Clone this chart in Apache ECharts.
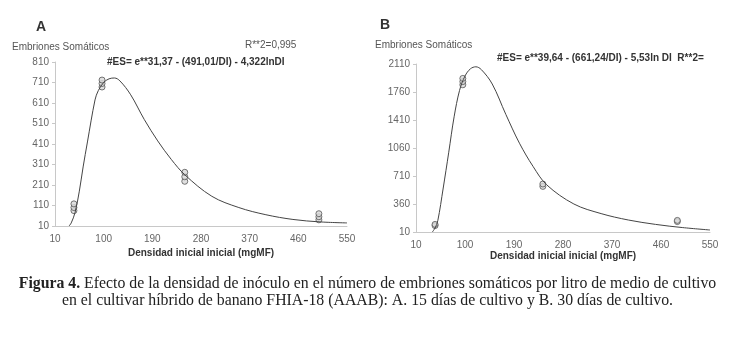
<!DOCTYPE html>
<html>
<head>
<meta charset="utf-8">
<script src="https://cdn.jsdelivr.net/npm/echarts@6/dist/echarts.min.js"></script>
<style>
html, body { margin: 0; padding: 0; background: #fff; }
#main { width: 735px; height: 339px; }
</style>
</head>
<body>
<div id="main"></div>
<script>
// Panel A (15 dias) - curva ajustada y observaciones
var curveA_x = [36, 40, 47, 55, 62, 70, 84, 90, 100, 110, 120, 130, 150, 175, 200, 225, 250, 300, 350, 400, 450, 500, 550];
var curveA_y = [10, 25, 75, 180, 298, 420, 625, 670, 710, 728, 732, 718, 650, 530, 425, 335, 260, 155, 100, 65, 42, 30, 25];
var pointsA_x = [45, 45, 45, 97, 97, 97, 250, 250, 250, 498, 498, 498];
var pointsA_y = [85, 100, 118, 688, 705, 722, 228, 250, 272, 40, 55, 70];

// Panel B (30 dias)
var curveB_x = [40, 45, 50, 60, 70, 80, 90, 100, 110, 120, 130, 150, 175, 200, 225, 250, 300, 350, 400, 450, 500, 550];
var curveB_y = [10, 60, 150, 560, 1000, 1450, 1780, 1960, 2050, 2075, 2040, 1860, 1480, 1120, 830, 600, 360, 240, 160, 105, 65, 35];
var pointsB_x = [45, 45, 96, 96, 96, 243, 243, 490, 490];
var pointsB_y = [90, 105, 1850, 1890, 1930, 580, 610, 140, 155];

var xTicks = [10, 550, 90];      // min, max, interval
var yTicksA = [10, 810, 100];
var yTicksB = [10, 2110, 350];

function pairs(xs, ys) {
    var out = [];
    for (var i = 0; i < xs.length; i++) {
        out.push([xs[i], ys[i]]);
    }
    return out;
}

var chart = echarts.init(document.getElementById('main'));

var textFont = 'Liberation Sans Narrow, Liberation Sans, Arial';
var labelStyle = { color: '#666', fontSize: 10, fontFamily: textFont };
var lineStyle = { color: '#c8c8c8', width: 1 };
var nameStyle = { color: '#333', fontSize: 10, fontWeight: 'bold', fontFamily: textFont };

function plain(v) { return String(v); }

function xAxisFor(idx, gap) {
    return {
        type: 'value', gridIndex: idx,
        min: xTicks[0], max: xTicks[1], interval: xTicks[2],
        name: 'Densidad inicial inicial (mgMF)', nameLocation: 'middle', nameGap: gap,
        nameTextStyle: nameStyle,
        axisLine: { show: true, lineStyle: lineStyle },
        axisTick: { show: false },
        axisLabel: Object.assign({ formatter: plain }, labelStyle),
        splitLine: { show: false }
    };
}
function yAxisFor(idx, t) {
    return {
        type: 'value', gridIndex: idx,
        min: t[0], max: t[1], interval: t[2],
        axisLine: { show: true, lineStyle: lineStyle },
        axisTick: { show: true, length: 3, lineStyle: lineStyle },
        axisLabel: Object.assign({ margin: 6, formatter: plain }, labelStyle),
        splitLine: { show: false }
    };
}

var pointStyle = { color: '#d8d8d8', borderColor: '#555', borderWidth: 1 };

option = {
    animation: false,
    grid: [
        { left: 55, top: 62, width: 292, height: 164 },
        { left: 416, top: 64, width: 294, height: 168 }
    ],
    xAxis: [xAxisFor(0, 22), xAxisFor(1, 16)],
    yAxis: [yAxisFor(0, yTicksA), yAxisFor(1, yTicksB)],
    series: [
        {
            type: 'line', xAxisIndex: 0, yAxisIndex: 0,
            data: pairs(curveA_x, curveA_y), smooth: 0.35, showSymbol: false,
            lineStyle: { color: '#444', width: 1 }
        },
        {
            type: 'scatter', xAxisIndex: 0, yAxisIndex: 0,
            data: pairs(pointsA_x, pointsA_y), symbolSize: [6, 6],
            itemStyle: pointStyle
        },
        {
            type: 'line', xAxisIndex: 1, yAxisIndex: 1,
            data: pairs(curveB_x, curveB_y), smooth: 0.35, showSymbol: false,
            lineStyle: { color: '#444', width: 1 }
        },
        {
            type: 'scatter', xAxisIndex: 1, yAxisIndex: 1,
            data: pairs(pointsB_x, pointsB_y), symbolSize: [6, 6],
            itemStyle: pointStyle
        }
    ],
    graphic: [
        { type: 'text', left: 36, top: 20, style: { text: 'A', font: 'bold 14px Liberation Sans', fill: '#333' } },
        { type: 'text', left: 380, top: 18, style: { text: 'B', font: 'bold 14px Liberation Sans', fill: '#333' } },
        { type: 'text', left: 12, top: 42, style: { text: 'Embriones Somáticos', font: '10px ' + textFont, fill: '#555' } },
        { type: 'text', left: 375, top: 40, style: { text: 'Embriones Somáticos', font: '10px ' + textFont, fill: '#555' } },
        { type: 'text', left: 245, top: 40, style: { text: 'R**2=0,995', font: '10px ' + textFont, fill: '#555' } },
        { type: 'text', left: 107, top: 57, style: { text: '#ES= e**31,37 - (491,01/DI) - 4,322lnDI', font: 'bold 10px ' + textFont, fill: '#333' } },
        { type: 'text', left: 497, top: 53, style: { text: '#ES= e**39,64 - (661,24/DI) - 5,53ln DI  R**2=', font: 'bold 10px ' + textFont, fill: '#333' } },
        {
            type: 'text', left: 'center', top: 276,
            style: {
                text: '{b|Figura 4.} Efecto de la densidad de inóculo en el número de embriones somáticos por litro de medio de cultivo',
                font: '15.8px Liberation Serif', fill: '#222',
                rich: { b: { fontWeight: 'bold', fontSize: 15.8, fontFamily: 'Liberation Serif', fill: '#222' } }
            }
        },
        {
            type: 'text', left: 'center', top: 293,
            style: {
                text: 'en el cultivar híbrido de banano FHIA-18 (AAAB): A. 15 días de cultivo y B. 30 días de cultivo.',
                font: '15.8px Liberation Serif', fill: '#222'
            }
        }
    ]
};
chart.setOption(option);
</script>
</body>
</html>
